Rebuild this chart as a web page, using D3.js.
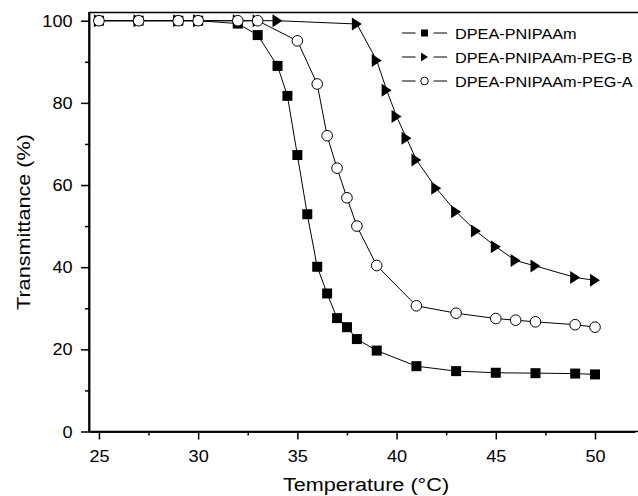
<!DOCTYPE html>
<html lang="en">
<head>
    <meta charset="UTF-8">
    <title>transmittance</title>
    <script src="https://d3js.org/d3.v7.min.js"></script>
    <style>
        body { margin: 0; background: #fff; }
        text { font-family: "Liberation Sans", Arial, sans-serif; fill: #000; }
    </style>
</head>
<body>

<svg width="638" height="496"></svg>

<script>

    // data
    var tempA = [25, 27, 29, 30, 32, 33, 34, 34.5, 35, 35.5, 36, 36.5, 37, 37.5, 38, 39, 41, 43, 45, 47, 49, 50];
    var pnipaam = [100, 100, 100, 100, 99.3, 96.5, 89.0, 81.7, 67.3, 52.9, 40.1, 33.6, 27.6, 25.4, 22.5, 19.7, 15.9, 14.7, 14.3, 14.2, 14.1, 13.9];

    var tempB = [25, 27, 29, 30, 32, 33, 34, 38, 39, 39.5, 40, 40.5, 41, 42, 43, 44, 45, 46, 47, 49, 50];
    var pegB = [100, 100, 100, 100, 100, 100, 100, 99.2, 90.3, 83.1, 76.7, 71.4, 66.1, 59.2, 53.5, 48.8, 45.0, 41.6, 40.3, 37.5, 36.8];

    var tempC = [25, 27, 29, 30, 32, 33, 35, 36, 36.5, 37, 37.5, 38, 39, 41, 43, 45, 46, 47, 49, 50];
    var pegA = [100, 100, 100, 100, 100, 100, 95.1, 84.6, 72.0, 64.1, 56.9, 50.0, 40.4, 30.6, 28.8, 27.5, 27.1, 26.7, 26.0, 25.4];

    var seriesNames = ['DPEA-PNIPAAm', 'DPEA-PNIPAAm-PEG-B', 'DPEA-PNIPAAm-PEG-A'];
    var xTicks = [25, 30, 35, 40, 45, 50];
    var xMinor = [27.5, 32.5, 37.5, 42.5, 47.5];
    var yTicks = [0, 20, 40, 60, 80, 100];
    var yMinor = [10, 30, 50, 70, 90];

    var svg = d3.select('svg');
    var pLeft = 89, pRight = 634.7, pTop = 12.5, pBottom = 431.5;
    var stretch = 1.13; // the original lettering is a little wide

    var x = d3.scaleLinear().domain([24.5, 52]).range([pLeft, pRight]);
    var y = d3.scaleLinear().domain([0, 102]).range([pBottom, pTop]);

    // frame (its right side runs past the picture edge in the original)
    svg.append('rect')
        .attr('x', pLeft).attr('y', pTop)
        .attr('width', pRight + 10 - pLeft).attr('height', pBottom - pTop)
        .attr('fill', 'none').attr('stroke', '#000').attr('stroke-width', 1.5);

    // x axis
    var gx = svg.append('g').attr('transform', 'translate(0,' + pBottom + ')');
    gx.call(d3.axisBottom(x).tickValues(xTicks).tickSize(8).tickSizeOuter(0));
    gx.append('g').call(d3.axisBottom(x).tickValues(xMinor).tickSize(4).tickSizeOuter(0).tickFormat(''));
    gx.selectAll('text')
        .attr('y', 31).attr('dy', 0)
        .attr('transform', 'scale(' + stretch + ',1)')
        .style('font-size', '16px');

    // y axis
    var gy = svg.append('g').attr('transform', 'translate(' + pLeft + ',0)');
    gy.call(d3.axisLeft(y).tickValues(yTicks).tickSize(8).tickSizeOuter(0));
    gy.append('g').call(d3.axisLeft(y).tickValues(yMinor).tickSize(4).tickSizeOuter(0).tickFormat(''));
    gy.selectAll('text')
        .attr('x', -16.5 / stretch).attr('dy', '0.35em')
        .attr('transform', 'scale(' + stretch + ',1)')
        .style('font-size', '16px');

    svg.selectAll('.domain').attr('stroke-width', 1.5);
    svg.selectAll('.tick line').attr('stroke-width', 1.5);

    // axis titles
    svg.append('text')
        .attr('transform', 'translate(366,491) scale(1.14,1)')
        .attr('text-anchor', 'middle')
        .style('font-size', '19px')
        .text('Temperature (°C)');

    svg.append('text')
        .attr('transform', 'translate(30,222) rotate(-90) scale(1.14,1)')
        .attr('text-anchor', 'middle')
        .style('font-size', '19px')
        .text('Transmittance (%)');

    // marker shapes
    function square(s) {
        return 'M' + (-s / 2) + ',' + (-s / 2) + 'h' + s + 'v' + s + 'h' + (-s) + 'Z';
    }
    function triangle(w, h) {
        return 'M' + (-w / 2) + ',' + (-h / 2) + 'L' + (w / 2) + ',0L' + (-w / 2) + ',' + (h / 2) + 'Z';
    }

    var line = d3.line()
        .x(function (d) { return x(d[0]); })
        .y(function (d) { return y(d[1]); });

    var series = [
        {t: tempA, v: pnipaam, shape: square(10), fill: '#000'},
        {t: tempB, v: pegB, shape: triangle(10, 13), fill: '#000'},
        {t: tempC, v: pegA, shape: 'circle', fill: '#fff'}
    ];

    var plot = svg.append('g');
    series.forEach(function (s) {
        var pts = s.t.map(function (t, i) { return [t, s.v[i]]; });
        var g = plot.append('g');
        g.append('path')
            .attr('d', line(pts))
            .attr('fill', 'none')
            .attr('stroke', '#000')
            .attr('stroke-width', 1);
        if (s.shape === 'circle') {
            g.selectAll('circle').data(pts).enter().append('circle')
                .attr('cx', function (d) { return x(d[0]); })
                .attr('cy', function (d) { return y(d[1]); })
                .attr('r', 5.3)
                .attr('fill', s.fill)
                .attr('stroke', '#000')
                .attr('stroke-width', 1);
        } else {
            g.selectAll('path.m').data(pts).enter().append('path')
                .attr('class', 'm')
                .attr('d', s.shape)
                .attr('transform', function (d) { return 'translate(' + x(d[0]) + ',' + y(d[1]) + ')'; })
                .attr('fill', s.fill);
        }
    });

    // legend: short line, gap, marker, gap, short line
    var legendShapes = [square(7), triangle(7, 9), 'circle'];
    var lg = svg.append('g').attr('transform', 'translate(402,33)');
    seriesNames.forEach(function (name, i) {
        var row = lg.append('g').attr('transform', 'translate(0,' + (i * 24) + ')');
        row.append('line').attr('x1', 0).attr('x2', 13.5)
            .attr('stroke', '#000').attr('stroke-width', 1);
        row.append('line').attr('x1', 31.5).attr('x2', 45)
            .attr('stroke', '#000').attr('stroke-width', 1);
        if (legendShapes[i] === 'circle') {
            row.append('circle').attr('cx', 22.5).attr('r', 3.8)
                .attr('fill', '#fff').attr('stroke', '#000').attr('stroke-width', 1);
        } else {
            row.append('path').attr('d', legendShapes[i])
                .attr('transform', 'translate(22.5,0)').attr('fill', '#000');
        }
        row.append('text')
            .attr('transform', 'translate(53,0) scale(1.05,1)')
            .attr('dy', '0.36em')
            .style('font-size', '15.5px')
            .text(name);
    });

</script>
</body>
</html>
